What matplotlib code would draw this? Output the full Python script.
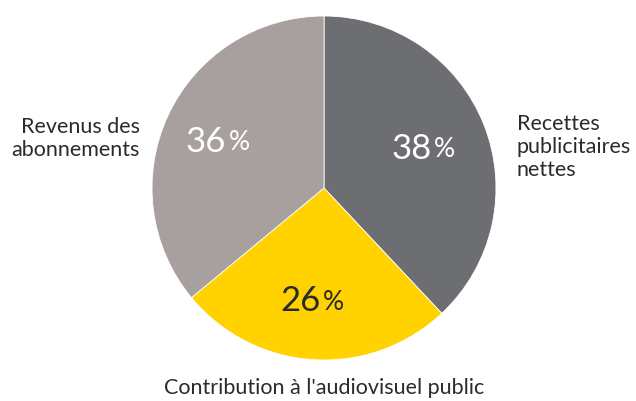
import numpy as np
import matplotlib
matplotlib.use("Agg")
import matplotlib.pyplot as plt

# --- DATA ---
labels = ["Recettes\npublicitaires\nnettes", "Contribution à l'audiovisuel public", "Revenus des\nabonnements"]
values = [38, 26, 36]
colors = ["#6d6e71", "#ffd200", "#a7a09e"]
pct_colors = ["white", "#2b2b2b", "white"]

plt.rcParams["font.family"] = ["Lato", "DejaVu Sans"]

fig = plt.figure(figsize=(6.36, 4.01), dpi=100)
W, H = 636, 401
cx, cy, R = 324, 188, 172
ax = fig.add_axes([(cx - R) / W, (H - cy - R) / H, 2 * R / W, 2 * R / H])

wedges, _ = ax.pie(values, colors=colors, startangle=90, counterclock=False,
                   radius=1, wedgeprops=dict(edgecolor="white", linewidth=0.6))
ax.set_xlim(-1, 1)
ax.set_ylim(-1, 1)
ax.set_aspect("equal")
ax.axis("off")

# percentage labels
for w, v, c in zip(wedges, values, pct_colors):
    ang = np.deg2rad((w.theta1 + w.theta2) / 2)
    r = 0.65
    x, y = r * np.cos(ang) - 0.02, r * np.sin(ang) - 0.01
    ax.text(x + 0.04, y, str(v), ha="right", va="center", fontsize=25, color=c)
    ax.text(x + 0.055, y - 0.005, "%", ha="left", va="center", fontsize=19, color=c)

txt = "#2b2b2b"
ax.text(1.12, 0.24, labels[0], ha="left", va="center", fontsize=15.5,
        color=txt, linespacing=1.18)
ax.text(0.0, -1.165, labels[1], ha="center", va="center", fontsize=15.5, color=txt)
ax.text(-1.07, 0.29, labels[2], ha="right", va="center", fontsize=15.5,
        color=txt, linespacing=1.18)

fig.savefig("out.png", dpi=100)
